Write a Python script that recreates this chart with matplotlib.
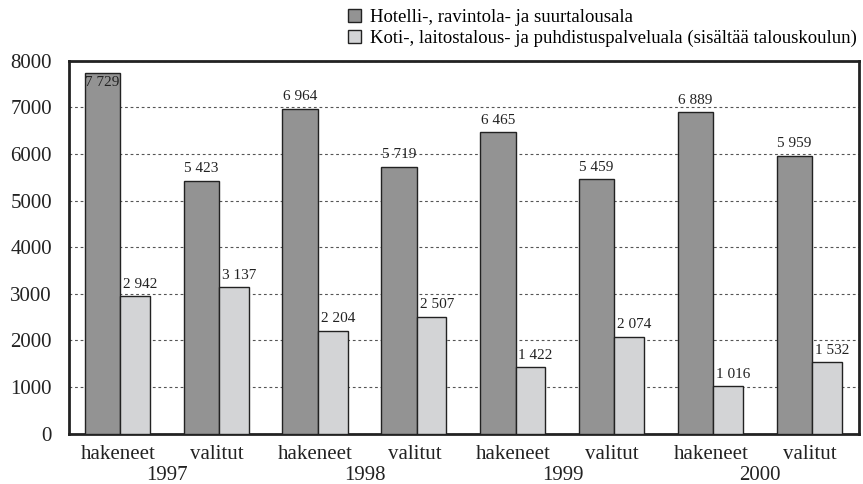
import matplotlib.pyplot as plt
import matplotlib.transforms as mtransforms
import numpy as np

plt.rcParams['font.family'] = ['Liberation Serif', 'DejaVu Serif']

categories = ['hakeneet', 'valitut'] * 4
years = ['1997', '1998', '1999', '2000']
hotelli = [7729, 5423, 6964, 5719, 6465, 5459, 6889, 5959]
koti = [2942, 3137, 2204, 2507, 1422, 2074, 1016, 1532]
series_names = ['Hotelli-, ravintola- ja suurtalousala',
                'Koti-, laitostalous- ja puhdistuspalveluala (sisältää talouskoulun)']

dark = '#939393'
light = '#d3d4d6'

fig = plt.figure(figsize=(8.63, 4.84), dpi=100)
ax = fig.add_axes([0.0794, 0.1043, 0.9954 - 0.0794, 0.8746 - 0.1043])

x = np.arange(len(categories))
w_dark = 0.36
w_light = 0.30
b1 = ax.bar(x - 0.335, hotelli, width=w_dark, align='edge', color=dark,
            edgecolor='#222222', linewidth=1.0, zorder=3, label=series_names[0])
b2 = ax.bar(x + 0.025, koti, width=w_light, align='edge', color=light,
            edgecolor='#222222', linewidth=1.0, zorder=3, label=series_names[1])

ax.set_xlim(-0.5, len(categories) - 0.5)
ax.set_ylim(0, 7950)
ax.set_yticks(np.arange(0, 8001, 1000))
ax.yaxis.grid(True, linestyle=(0, (2.5, 2.5)), color='#555555', linewidth=0.8, zorder=0)
ax.set_axisbelow(True)

ax.set_xticks(x)
ax.set_xticklabels(categories)
ax.tick_params(axis='both', length=0, labelsize=15, colors='#222222')
ax.tick_params(axis='y', pad=12)
ax.tick_params(axis='x', pad=8)
for sp in ax.spines.values():
    sp.set_linewidth(2.0)
    sp.set_color('#222222')

def fmt(v):
    return f'{v:,}'.replace(',', ' ')

top = ax.get_ylim()[1]
for xi, v in zip(x, hotelli):
    cx = xi - 0.335 + w_dark / 2
    if v > top - 350:
        ax.text(cx, v, fmt(v), ha='center', va='top', fontsize=11, color='#222222',
                zorder=5, transform=ax.transData + mtransforms.ScaledTranslation(0, -2 / 72, fig.dpi_scale_trans))
    else:
        ax.text(cx, v, fmt(v), ha='center', va='bottom', fontsize=11, color='#222222',
                transform=ax.transData + mtransforms.ScaledTranslation(0, 4 / 72, fig.dpi_scale_trans))
for xi, v in zip(x, koti):
    lx = xi + 0.025
    ax.text(lx, v, fmt(v), ha='left', va='bottom', fontsize=11, color='#222222',
            transform=ax.transData + mtransforms.ScaledTranslation(2 / 72, 4 / 72, fig.dpi_scale_trans))

# years under each pair
trans = mtransforms.blended_transform_factory(ax.transData, fig.transFigure)
for i, yr in enumerate(years):
    ax.text(2 * i + 0.5, 1 - 475 / 484, yr, ha='center', va='center', fontsize=15,
            color='#222222', transform=trans)

fig.legend(handles=[b1, b2], labels=series_names, loc='upper left',
           bbox_to_anchor=(342 / 863, 1 - 3 / 484), frameon=False, fontsize=13.5,
           handlelength=0.7, handleheight=0.7, handletextpad=0.5,
           labelspacing=0.2, borderaxespad=0.1, borderpad=0.2)

fig.savefig('out.png', dpi=100)
